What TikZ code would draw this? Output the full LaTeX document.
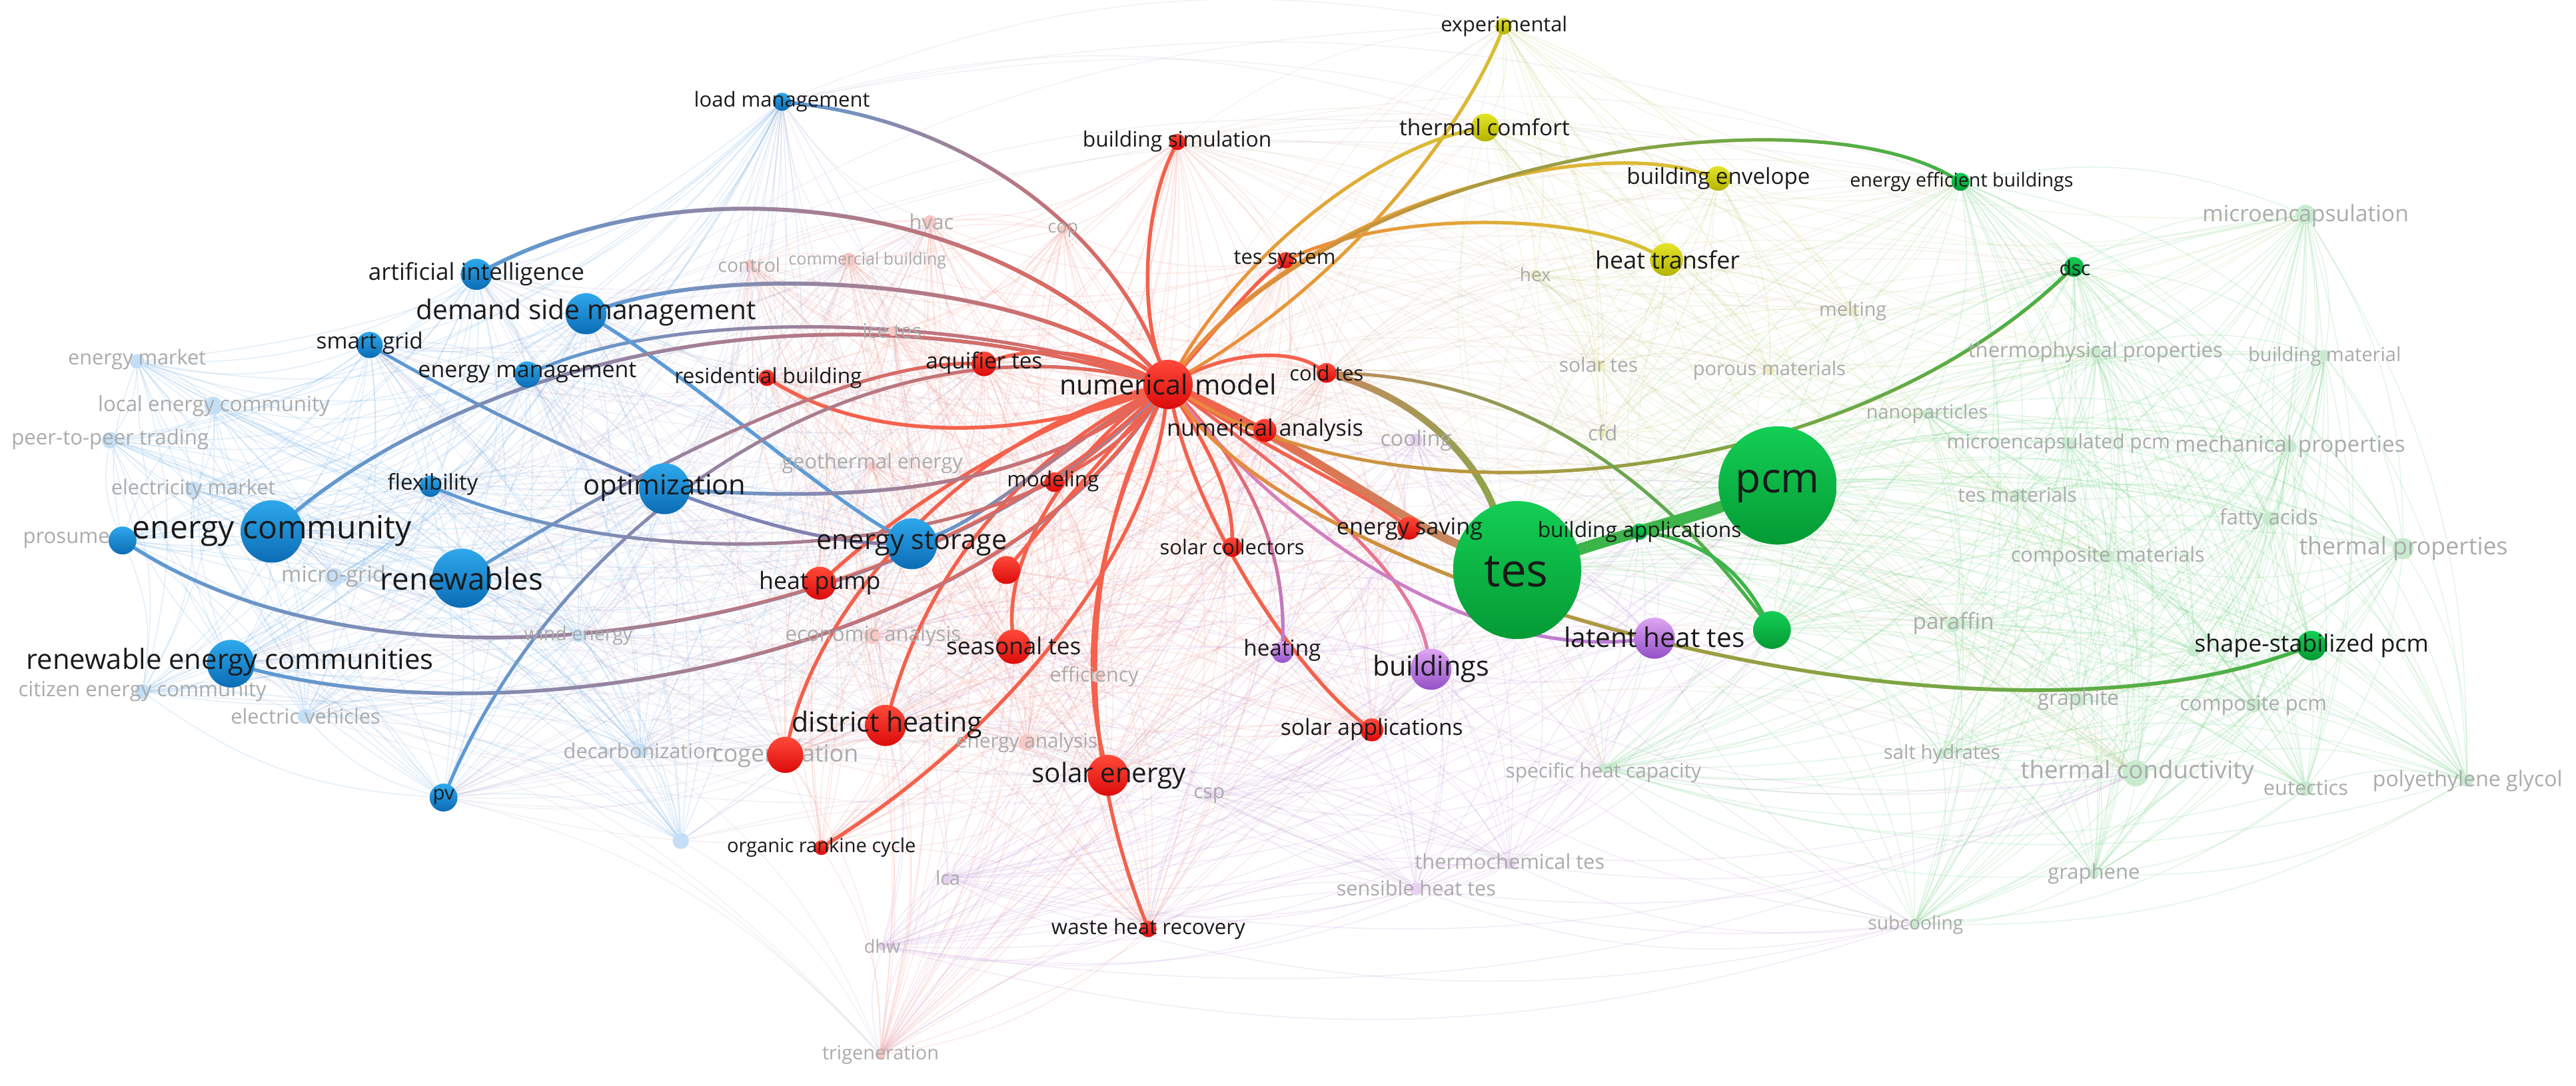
\documentclass[tikz,border=0pt]{standalone}
\usepackage{fontspec}
\setmainfont{Open Sans}
\usepackage{graphicx}
\usetikzlibrary{fadings,shapes.geometric}
\pgfdeclarelayer{bgl}\pgfdeclarelayer{haze}\pgfdeclarelayer{bold}
\pgfsetlayers{bgl,haze,bold,main}
\definecolor{Btop}{HTML}{2FA8EC}\definecolor{Bbot}{HTML}{0B6CB5}
\definecolor{Rtop}{HTML}{FF4A3A}\definecolor{Rbot}{HTML}{DC0A0A}
\definecolor{Gtop}{HTML}{14CF55}\definecolor{Gbot}{HTML}{049A34}
\definecolor{Ptop}{HTML}{DDA6F2}\definecolor{Pbot}{HTML}{9450C6}
\definecolor{Ytop}{HTML}{E4E42A}\definecolor{Ybot}{HTML}{B3B300}
\definecolor{fBc}{HTML}{C4DFF5}\definecolor{fRc}{HTML}{F8C8C4}
\definecolor{fGc}{HTML}{C8EBCF}\definecolor{fYc}{HTML}{EDEDC0}
\definecolor{fPc}{HTML}{E6D2F0}
\definecolor{Ered}{HTML}{F4614C}\definecolor{Eblue}{HTML}{5C9BD6}
\definecolor{Epurp}{HTML}{8D7BA6}\definecolor{Egreen}{HTML}{3DB54A}
\definecolor{Eyel}{HTML}{D6C531}\definecolor{Eorange}{HTML}{EE8A3C}
\definecolor{Epink}{HTML}{E07FB3}\definecolor{Epurp2}{HTML}{B77ED8}
\definecolor{Ebrown}{HTML}{C58B5E}\definecolor{Eolive}{HTML}{8DA54E}
\definecolor{HzB}{HTML}{6FAEE6}\definecolor{HzR}{HTML}{F39A90}
\definecolor{HzG}{HTML}{7DD68E}\definecolor{HzY}{HTML}{D3D37A}
\definecolor{HzP}{HTML}{C9A3E0}\definecolor{HzRB}{HTML}{B7A6C8}
\definecolor{HzRG}{HTML}{D2B89A}\definecolor{HzGY}{HTML}{B8DA88}
\definecolor{labc}{HTML}{1A1A1A}\definecolor{flabc}{HTML}{ABABAB}
\tikzfading[name=fr, left color=transparent!100, right color=transparent!0]
\tikzfading[name=fu, top color=transparent!0, bottom color=transparent!100]
\tikzfading[name=fd, top color=transparent!100, bottom color=transparent!0]
\tikzset{
 nB/.style={circle,inner sep=0pt,minimum size=#1,top color=Btop,bottom color=Bbot,draw=none},
 nR/.style={circle,inner sep=0pt,minimum size=#1,top color=Rtop,bottom color=Rbot,draw=none},
 nG/.style={circle,inner sep=0pt,minimum size=#1,top color=Gtop,bottom color=Gbot,draw=none},
 nP/.style={circle,inner sep=0pt,minimum size=#1,top color=Ptop,bottom color=Pbot,draw=none},
 nY/.style={circle,inner sep=0pt,minimum size=#1,top color=Ytop,bottom color=Ybot,draw=none},
 fB/.style={circle,inner sep=0pt,minimum size=#1,fill=fBc},
 fR/.style={circle,inner sep=0pt,minimum size=#1,fill=fRc},
 fG/.style={circle,inner sep=0pt,minimum size=#1,fill=fGc},
 fY/.style={circle,inner sep=0pt,minimum size=#1,fill=fYc},
 fP/.style={circle,inner sep=0pt,minimum size=#1,fill=fPc},
 bl/.style={inner sep=0pt,text=labc},
 fl/.style={inner sep=0pt,text=flabc},
 eR/.style={draw=Ered,line width=2.2pt,line cap=round},
 eB/.style={draw=Eblue,line width=2.2pt,line cap=round},
 eG/.style={draw=Egreen,line width=2.2pt,line cap=round},
 hB/.style={draw=HzB,line width=.6pt,opacity=.2},
 hR/.style={draw=HzR,line width=.6pt,opacity=.2},
 hG/.style={draw=HzG,line width=.6pt,opacity=.22},
 hY/.style={draw=HzY,line width=.6pt,opacity=.25},
 hP/.style={draw=HzP,line width=.6pt,opacity=.22},
 hRB/.style={draw=HzRB,line width=.6pt,opacity=.16},
 hRG/.style={draw=HzRG,line width=.6pt,opacity=.16},
 hGY/.style={draw=HzGY,line width=.6pt,opacity=.18},
}
\newcommand\lab[5]{\node[#1] (#2) at (#3) {\resizebox{#4pt}{!}{#5}};}
\newcommand\hz[2]{\foreach \a [count=\i] in #2 {\foreach \b [count=\j] in #2 {\ifnum\j>\i\relax\draw[#1] (\a) to[bend left=16] (\b);\fi}}}
\newcommand\hzx[3]{\foreach \a in #2 {\foreach \b in #3 {\draw[#1] (\a) to[bend left=16] (\b);}}}
\newcommand\gedge[5]{\draw[line width=#3,draw=#1,line cap=round] #5; \draw[line width=#3,draw=#2,line cap=round,path fading=#4] #5;}
\def\Blist{lm,ai,dsm,sg,em,flex,opt,ec,pros,rw,rec,es,pv,emk,lec,p2p,elm,mg,we,cec,ev,dec,lb}
\def\Rlist{nm,bs,tsys,aq,rb,ct,na,mod,sc,esv,rx,hp,st,dh,cog,se,orc,whr,sa,ctl,cb,hvac,cop,ice,geo,eca,eff,ena,trig}
\def\Glist{tes,pcm,ba,gx,eeb,dsc,ssp,micro,thp,bm,nano,mcp,mep,tm,fa,tp,cm,par,gra,cpcm,sh,tcond,eut,peg,gph,sub,shc,ssp2}
\def\Ylist{exp,thc,be,ht,hex,stes,por,cfd,melt}
\def\Plist{heat,bld,lht,cool,tct,sht,dhw,lca,csp}
\begin{document}
\begin{tikzpicture}[x=1pt,y=-1pt]
\useasboundingbox (0,0) rectangle (1568,661);
\begin{pgfonlayer}{bgl}\fill[white] (0,0) rectangle (1568,661);\end{pgfonlayer}
% ---------- faint nodes ----------
\node[fB=9pt] (emk) at (83.5,220) {};
\node[fB=11pt] (lec) at (130,247) {};
\node[fB=10pt] (p2p) at (67,268) {};
\node[fB=10pt] (elm) at (117.7,298) {};
\node[fB=11pt] (mg) at (203.4,351.3) {};
\node[fB=8pt] (we) at (352,387) {};
\node[fB=9pt] (cec) at (86.7,421) {};
\node[fB=9pt] (ev) at (185.6,436) {};
\node[fB=9pt] (dec) at (390,457) {};
\node[fB=10pt] (lb) at (414.4,511.8) {};
\node[fR=6pt] (ctl) at (456.5,161) {};
\node[fR=9pt] (cb) at (516.6,158.4) {};
\node[fR=8pt] (hvac) at (566,135) {};
\node[fR=6pt] (cop) at (647,140) {};
\node[fR=6pt] (ice) at (543.6,201.5) {};
\node[fR=6pt] (geo) at (531,284) {};
\node[fR=10pt] (eca) at (531,387) {};
\node[fR=7pt] (eff) at (668,412) {};
\node[fR=10pt] (ena) at (625,452) {};
\node[fR=6pt] (trig) at (536,642) {};
\node[fP=5pt] (dhw) at (537,576) {};
\node[fP=7pt] (lca) at (577,534.5) {};
\node[fP=6pt] (csp) at (736,484) {};
\node[fP=8pt] (cool) at (862,268) {};
\node[fP=7pt] (tct) at (919,525.5) {};
\node[fP=8pt] (sht) at (862,541) {};
\node[fY=6pt] (hex) at (934.6,167) {};
\node[fY=7pt] (stes) at (973,222.4) {};
\node[fY=6pt] (por) at (1077,225.5) {};
\node[fY=6pt] (cfd) at (975.5,263.5) {};
\node[fY=6pt] (melt) at (1127.8,189.3) {};
\node[fG=12pt] (micro) at (1403.4,130.7) {};
\node[fG=8pt] (thp) at (1275.5,214.7) {};
\node[fG=7pt] (bm) at (1415,216.5) {};
\node[fG=6pt] (nano) at (1173,251.8) {};
\node[fG=8pt] (mcp) at (1259,270) {};
\node[fG=8pt] (mep) at (1393.8,271.7) {};
\node[fG=7pt] (tm) at (1228,301) {};
\node[fG=9pt] (fa) at (1381.5,316) {};
\node[fG=13pt] (tp) at (1462.7,334) {};
\node[fG=8pt] (cm) at (1283,338.7) {};
\node[fG=9pt] (par) at (1189,380.4) {};
\node[fG=8pt] (gra) at (1265,426) {};
\node[fG=9pt] (cpcm) at (1371.6,429.3) {};
\node[fG=6pt] (sh) at (1182,459) {};
\node[fG=16pt] (tcond) at (1300,470.7) {};
\node[fG=9pt] (eut) at (1403.4,480) {};
\node[fG=8pt] (peg) at (1501.5,474.9) {};
\node[fG=6pt] (gph) at (1274.5,532) {};
\node[fG=6pt] (sub) at (1165.4,562.4) {};
\node[fG=6pt] (shc) at (976.3,467.5) {};
\node[fG=8pt] (ssp2) at (1335.5,395.8) {};
% ---------- faded labels ----------
\lab{fl}{L-emk}{83.4,219}{84}{energy market}
\lab{fl}{L-lec}{130.2,247}{141}{local energy community}
\lab{fl}{L-p2p}{67,267.5}{120}{peer-to-peer trading}
\lab{fl}{L-elm}{117.7,298}{100}{electricity market}
\lab{fl}{L-pros}{46,329}{64}{prosumers}
\lab{fl}{L-mg}{203,351}{63.5}{micro-grid}
\lab{fl}{L-we}{352,387}{66}{wind energy}
\lab{fl}{L-cec}{86.7,421}{151}{citizen energy community}
\lab{fl}{L-ev}{186,436}{91}{electric vehicles}
\lab{fl}{L-dec}{390,457}{94}{decarbonization}
\lab{fl}{L-ctl}{456,161.5}{38}{control}
\lab{fl}{L-cb}{528,158.4}{96}{commercial building}
\lab{fl}{L-hvac}{567,135}{27}{hvac}
\lab{fl}{L-cop}{647,140}{18.5}{cop}
\lab{fl}{L-ice}{543,201.5}{36}{ice tes}
\lab{fl}{L-geo}{531,282}{110}{geothermal energy}
\lab{fl}{L-eca}{531.5,387}{107}{economic analysis}
\lab{fl}{L-eff}{666,412}{54}{efficiency}
\lab{fl}{L-ena}{625,452}{86}{energy analysis}
\lab{fl}{L-cog}{478,460}{89}{cogeneration}
\lab{fl}{L-csp}{736,484.4}{19}{csp}
\lab{fl}{L-lca}{577,534.5}{15}{lca}
\lab{fl}{L-dhw}{537,576}{22}{dhw}
\lab{fl}{L-trig}{536,642}{71}{trigeneration}
\lab{fl}{L-cool}{862,268}{43.5}{cooling}
\lab{fl}{L-hex}{934.6,167}{19}{hex}
\lab{fl}{L-stes}{973,222}{48}{solar tes}
\lab{fl}{L-por}{1077,225.5}{93}{porous materials}
\lab{fl}{L-cfd}{975.5,263.5}{18}{cfd}
\lab{fl}{L-melt}{1127.8,189.3}{41}{melting}
\lab{fl}{L-nano}{1173,251.8}{74}{nanoparticles}
\lab{fl}{L-thp}{1275.5,214.5}{155}{thermophysical properties}
\lab{fl}{L-bm}{1415,217}{93}{building material}
\lab{fl}{L-micro}{1403.4,131.5}{125.5}{microencapsulation}
\lab{fl}{L-mcp}{1253,270}{136}{microencapsulated pcm}
\lab{fl}{L-mep}{1394,271.5}{140}{mechanical properties}
\lab{fl}{L-tm}{1228,301}{72.4}{tes materials}
\lab{fl}{L-fa}{1381,316}{60}{fatty acids}
\lab{fl}{L-tp}{1463,334}{127}{thermal properties}
\lab{fl}{L-cm}{1283,338.7}{118}{composite materials}
\lab{fl}{L-par}{1189,379.5}{49.5}{paraffin}
\lab{fl}{L-gra}{1265,426}{49.5}{graphite}
\lab{fl}{L-cpcm}{1371.6,429.3}{89.5}{composite pcm}
\lab{fl}{L-sh}{1182,459}{71}{salt hydrates}
\lab{fl}{L-tcond}{1301,470}{142}{thermal conductivity}
\lab{fl}{L-eut}{1403.5,479.5}{51.5}{eutectics}
\lab{fl}{L-peg}{1502,475.5}{115.5}{polyethylene glycol}
\lab{fl}{L-gph}{1274.5,532}{56}{graphene}
\lab{fl}{L-sub}{1166,563}{58}{subcooling}
\lab{fl}{L-shc}{976,470.5}{119}{specific heat capacity}
\lab{fl}{L-tct}{919,524.5}{115.5}{thermochemical tes}
\lab{fl}{L-sht}{862,540.5}{97}{sensible heat tes}
% ---------- main nodes ----------
\node[nB=11pt] (lm) at (476,62) {};
\node[nB=19pt] (ai) at (290,167) {};
\node[nB=25pt] (dsm) at (356.7,191) {};
\node[nB=16pt] (sg) at (225,210) {};
\node[nB=16pt] (em) at (321,228) {};
\node[nB=13pt] (flex) at (262,296) {};
\node[nB=31pt] (opt) at (404.5,297.5) {};
\node[nB=38pt] (ec) at (165.5,323.5) {};
\node[nB=17pt] (pros) at (74.6,329) {};
\node[nB=36pt] (rw) at (281,352) {};
\node[nB=29pt] (rec) at (140.5,404) {};
\node[nB=31pt] (es) at (555,331) {};
\node[nB=17pt] (pv) at (270,485.5) {};
\node[nR=30pt] (nm) at (711,234) {};
\node[nR=10pt] (bs) at (716.7,86.4) {};
\node[nR=10pt] (tsys) at (782.6,158.4) {};
\node[nR=15pt] (aq) at (599,221.5) {};
\node[nR=10pt] (rb) at (466.8,230) {};
\node[nR=12pt] (ct) at (807.4,227) {};
\node[nR=14pt] (na) at (770,262) {};
\node[nR=12pt] (mod) at (641.8,293.5) {};
\node[nR=12pt] (sc) at (750,333) {};
\node[nR=14pt] (esv) at (857.6,321.5) {};
\node[nR=17pt] (rx) at (612.6,347) {};
\node[nR=20pt] (hp) at (499,355) {};
\node[nR=21pt] (st) at (617,393.7) {};
\node[nR=25pt] (dh) at (539,441.6) {};
\node[nR=22pt] (cog) at (478,459.5) {};
\node[nR=25pt] (se) at (674.5,472) {};
\node[nR=9pt] (orc) at (500,516) {};
\node[nR=10pt] (whr) at (699,565.5) {};
\node[nR=14pt] (sa) at (835,444.3) {};
\node[nP=13pt] (heat) at (780.6,397) {};
\node[nP=25pt] (bld) at (871,407.4) {};
\node[nP=25pt] (lht) at (1007,388.5) {};
\node[nY=10pt] (exp) at (915.3,16) {};
\node[nY=17pt] (thc) at (904,77.6) {};
\node[nY=15pt] (be) at (1045.8,108.6) {};
\node[nY=20pt] (ht) at (1014.4,158) {};
\node[ellipse,inner sep=0pt,minimum width=78pt,minimum height=84pt,top color=Gtop,bottom color=Gbot] (tes) at (923.5,347) {};
\node[nG=72pt] (pcm) at (1082,295.5) {};
\node[nG=10pt] (ba) at (998,323.6) {};
\node[nG=23pt] (gx) at (1078.6,383.5) {};
\node[nG=11pt] (eeb) at (1193.4,110.7) {};
\node[nG=12pt] (dsc) at (1262.4,162.5) {};
\node[nG=18pt] (ssp) at (1407,393) {};
% ---------- bold labels ----------
\lab{bl}{L-lm}{476,62}{107}{load management}
\lab{bl}{L-ai}{290,167}{131.5}{artificial intelligence}
\lab{bl}{L-dsm}{356.7,190}{207}{demand side management}
\lab{bl}{L-sg}{225,209}{65}{smart grid}
\lab{bl}{L-em}{321,227}{133}{energy management}
\lab{bl}{L-flex}{263.4,295}{55}{flexibility}
\lab{bl}{L-opt}{404.5,297}{99}{optimization}
\lab{bl}{L-ec}{165.6,323}{170}{energy community}
\lab{bl}{L-rw}{281,352}{99}{renewables}
\lab{bl}{L-rec}{140,403}{248}{renewable energy communities}
\lab{bl}{L-es}{555,331}{116}{energy storage}
\lab{bl}{L-pv}{270,485}{13}{pv}
\lab{bl}{L-nm}{711,234}{132}{numerical model}
\lab{bl}{L-bs}{716.5,86}{115}{building simulation}
\lab{bl}{L-tsys}{782,158}{62}{tes system}
\lab{bl}{L-aq}{599,221}{71}{aquifier tes}
\lab{bl}{L-rb}{467.6,230}{114}{residential building}
\lab{bl}{L-ct}{807.5,227}{45}{cold tes}
\lab{bl}{L-na}{770,262}{119.6}{numerical analysis}
\lab{bl}{L-mod}{641,293}{56}{modeling}
\lab{bl}{L-sc}{750,333}{88}{solar collectors}
\lab{bl}{L-esv}{858,322}{89}{energy saving}
\lab{bl}{L-hp}{499,355}{74}{heat pump}
\lab{bl}{L-st}{617,393}{82}{seasonal tes}
\lab{bl}{L-dh}{540,441}{116}{district heating}
\lab{bl}{L-se}{675,472}{94}{solar energy}
\lab{bl}{L-orc}{500,516}{115}{organic rankine cycle}
\lab{bl}{L-whr}{699,565.5}{118}{waste heat recovery}
\lab{bl}{L-sa}{835,444}{111}{solar applications}
\lab{bl}{L-heat}{780.5,396}{47}{heating}
\lab{bl}{L-bld}{871,407}{71}{buildings}
\lab{bl}{L-lht}{1007,388}{110}{latent heat tes}
\lab{bl}{L-exp}{915.5,16}{77}{experimental}
\lab{bl}{L-thc}{903.6,77.6}{103.7}{thermal comfort}
\lab{bl}{L-be}{1046,108.6}{111.6}{building envelope}
\lab{bl}{L-ht}{1015,158}{88}{heat transfer}
\lab{bl}{L-eeb}{1194,110.7}{136}{energy efficient buildings}
\lab{bl}{L-dsc}{1263,163}{19}{dsc}
\lab{bl}{L-ba}{998,323.6}{124}{building applications}
\lab{bl}{L-ssp}{1407,393}{142.5}{shape-stabilized pcm}
\lab{bl}{L-tes}{923,348}{39}{tes}
\lab{bl}{L-pcm}{1082,296}{51}{pcm}
% ---------- haze ----------
\begin{pgfonlayer}{haze}
\hz{hB}{\Blist}
\hz{hR}{\Rlist}
\hz{hG}{\Glist}
\hz{hY}{\Ylist}
\hz{hP}{\Plist}
\hzx{hRB}{{nm,hp,dh,cog,aq,rb,ctl,cb,hvac,se,st,eca,geo}}{{dsm,em,opt,es,rw,ec,rec,ai,lm,sg,flex,pv,dec,we}}
\hzx{hRG}{{nm,na,ct,esv,sc,tsys,bs,se,sa}}{{tes,pcm,ba,gx,eeb,dsc,shc,tcond,par}}
\hzx{hGY}{{tes,pcm,ba,eeb,tcond,micro,thp,cm,tm,nano}}{\Ylist}
\hzx{hP}{{tes,pcm,gx,ba,tcond,shc,sub}}{\Plist}
\hzx{hP}{{nm,se,st,dh,sa,esv,na,whr,eca,trig}}{\Plist}
\hzx{hRG}{{nm,tsys,bs,ct,na}}{\Ylist}
\hzx{hRB}{{pv,lb,dec,ev,rec}}{{tes,pcm,tct,sht,trig}}
\hzx{hRB}{{lm,dsm}}{{thc,be,exp,eeb}}
\end{pgfonlayer}
% ---------- bold edges ----------
\begin{pgfonlayer}{bold}
\draw[eR] (nm) .. controls (695,190) and (695,130) .. (bs);
\draw[eR] (nm) .. controls (745,195) and (765,170) .. (tsys);
\draw[eR] (nm) .. controls (660,212) and (625,212) .. (aq);
\draw[eR] (nm) .. controls (640,262) and (540,275) .. (rb);
\draw[eR] (nm) .. controls (750,215) and (785,212) .. (ct);
\draw[eR] (nm) -- (na);
\draw[eR] (nm) .. controls (680,265) and (660,280) .. (mod);
\draw[eR] (nm) .. controls (728,262) and (750,295) .. (sc);
\draw[eR] (nm) .. controls (780,278) and (830,300) .. (esv);
\draw[eR] (nm) .. controls (675,275) and (635,320) .. (rx);
\draw[eR] (nm) .. controls (640,255) and (560,300) .. (hp);
\draw[eR] (nm) .. controls (660,270) and (612,330) .. (st);
\draw[eR] (nm) .. controls (640,270) and (570,330) .. (dh);
\draw[eR] (nm) .. controls (600,260) and (500,360) .. (cog);
\draw[eR] (nm) .. controls (680,300) and (652,380) .. (se);
\draw[eR] (nm) .. controls (662,330) and (650,440) .. (whr);
\draw[eR] (nm) .. controls (700,330) and (620,440) .. (orc);
\draw[eR] (nm) .. controls (730,320) and (790,410) .. (sa);
\gedge{Eblue}{Ered}{2.2pt}{fr}{(es) .. controls (600,315) and (650,270) .. (nm)}
\gedge{Ered}{Epurp2}{2pt}{fd}{(nm) .. controls (772,300) and (782,350) .. (heat)}
\gedge{Ered}{Epink}{2pt}{fd}{(nm) .. controls (800,300) and (860,350) .. (bld)}
\gedge{Epink}{Epurp2}{2pt}{fr}{(nm) .. controls (790,330) and (900,400) .. (lht)}
\gedge{Ered}{Ebrown}{5pt}{fr}{(nm) .. controls (790,270) and (850,315) .. (tes)}
\gedge{Ebrown}{Eolive}{4pt}{fr}{(ct) .. controls (870,245) and (900,285) .. (tes)}
\gedge{Eorange}{Egreen}{2pt}{fr}{(nm) .. controls (850,320) and (1120,300) .. (dsc)}
\gedge{Ebrown}{Egreen}{2pt}{fr}{(ct) .. controls (950,230) and (1030,320) .. (gx)}
\gedge{Eorange}{Egreen}{2.2pt}{fr}{(nm) .. controls (800,360) and (1200,470) .. (ssp)}
\gedge{Eorange}{Eyel}{2pt}{fu}{(nm) .. controls (820,170) and (890,80) .. (exp)}
\gedge{Eorange}{Eyel}{2pt}{fr}{(nm) .. controls (760,150) and (840,90) .. (thc)}
\gedge{Eorange}{Eyel}{2pt}{fr}{(nm) .. controls (790,130) and (960,80) .. (be)}
\gedge{Eorange}{Eyel}{2pt}{fr}{(tsys) .. controls (850,128) and (960,130) .. (ht)}
\gedge{Eorange}{Egreen}{2pt}{fr}{(nm) .. controls (820,95) and (1100,55) .. (eeb)}
\draw[eG,line width=7pt] (tes) .. controls (990,325) and (1030,315) .. (pcm);
\draw[eG] (gx) .. controls (1060,350) and (1040,330) .. (ba);
\gedge{Eblue}{Ered}{2.2pt}{fr}{(lm) .. controls (600,75) and (680,150) .. (nm)}
\gedge{Eblue}{Ered}{2.4pt}{fr}{(ai) .. controls (420,100) and (600,120) .. (nm)}
\gedge{Eblue}{Ered}{2.4pt}{fr}{(dsm) .. controls (450,160) and (620,170) .. (nm)}
\gedge{Eblue}{Ered}{2pt}{fr}{(em) .. controls (420,185) and (600,195) .. (nm)}
\draw[eB] (dsm) .. controls (420,230) and (500,300) .. (es);
\gedge{Eblue}{Epurp}{2pt}{fr}{(sg) .. controls (320,265) and (460,330) .. (es)}
\gedge{Eblue}{Ered}{2.2pt}{fr}{(ec) .. controls (260,245) and (450,160) .. (nm)}
\gedge{Eblue}{Ered}{2.2pt}{fr}{(pros) .. controls (250,440) and (560,380) .. (nm)}
\gedge{Eblue}{Ered}{2.2pt}{fr}{(rec) .. controls (320,450) and (600,400) .. (nm)}
\gedge{Eblue}{Ered}{2pt}{fr}{(pv) .. controls (340,320) and (520,190) .. (nm)}
\gedge{Eblue}{Ered}{2pt}{fr}{(rw) .. controls (400,280) and (520,220) .. (aq)}
\gedge{Eblue}{Ered}{2.2pt}{fr}{(opt) .. controls (520,305) and (620,300) .. (nm)}
\gedge{Eblue}{Ered}{2pt}{fr}{(flex) .. controls (420,360) and (640,330) .. (nm)}
\end{pgfonlayer}
\end{tikzpicture}
\end{document}
